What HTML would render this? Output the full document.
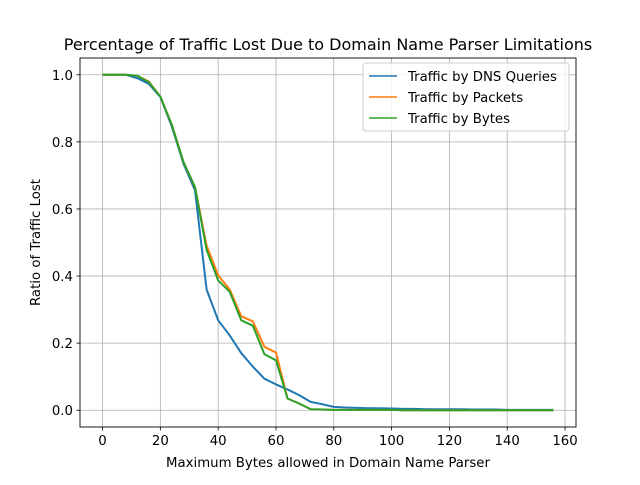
<!DOCTYPE html>
<html><head><meta charset="utf-8"><style>
body{margin:0;background:#fff;font-family:"Liberation Sans","DejaVu Sans",sans-serif;}
svg text{font-family:"DejaVu Sans","Liberation Sans",sans-serif;fill:#000;}
</style></head><body>
<svg id="chart" width="640" height="480" xmlns="http://www.w3.org/2000/svg">
<rect width="640" height="480" fill="#fff"/>
<text x="328" y="50" font-size="16" text-anchor="middle">Percentage of Traffic Lost Due to Domain Name Parser Limitations</text>
<g id="grid"></g><g id="series"></g>
<rect x="80" y="58" width="496" height="369" fill="none" stroke="#000" stroke-width="0.9"/>
<g id="ticks"></g>
<text x="328" y="467" font-size="13.3" text-anchor="middle">Maximum Bytes allowed in Domain Name Parser</text>
<text transform="translate(40,242.5) rotate(-90)" font-size="13.3" text-anchor="middle">Ratio of Traffic Lost</text>
<g>
<rect x="363" y="63" width="206" height="68" rx="3" fill="#fff" fill-opacity="0.8" stroke="#ccc"/>
<line x1="369" x2="397" y1="76" y2="76" stroke="#1f77b4" stroke-width="1.5"/>
<text x="408" y="81" font-size="13.3">Traffic by DNS Queries</text>
<line x1="369" x2="397" y1="97" y2="97" stroke="#ff7f0e" stroke-width="1.5"/>
<text x="408" y="102" font-size="13.3">Traffic by Packets</text>
<line x1="369" x2="397" y1="118" y2="118" stroke="#2ca02c" stroke-width="1.5"/>
<text x="408" y="123" font-size="13.3">Traffic by Bytes</text>
</g>
</svg>
<script>
const xValues=[0,4,8,12,16,20,24,28,32,36,40,44,48,52,56,60,64,68,72,76,80,84,88,92,96,100,104,108,112,116,120,124,128,132,136,140,144,148,152,156];
const dnsValues=[1,1,1,0.99,0.973,0.934,0.845,0.735,0.655,0.36,0.268,0.223,0.17,0.13,0.094,0.077,0.062,0.045,0.025,0.018,0.01,0.008,0.007,0.006,0.006,0.005,0.004,0.004,0.003,0.003,0.003,0.003,0.002,0.002,0.002,0.001,0.001,0.001,0.001,0.001];
const packetValues=[1,1,1,0.997,0.98,0.935,0.85,0.74,0.665,0.491,0.402,0.36,0.28,0.265,0.189,0.172,0.035,0.02,0.003,0.002,0.001,0.001,0.001,0.001,0.001,0.001,0,0,0,0,0,0,0,0,0,0,0,0,0,0];
const byteValues=[1,1,1,0.997,0.978,0.935,0.85,0.74,0.665,0.478,0.387,0.353,0.268,0.252,0.167,0.149,0.035,0.02,0.003,0.002,0.001,0.001,0.001,0.001,0.001,0.001,0,0,0,0,0,0,0,0,0,0,0,0,0,0];
const xTicks=[0,20,40,60,80,100,120,140,160];
const yTicks=[0.0,0.2,0.4,0.6,0.8,1.0];
const NS="http://www.w3.org/2000/svg";
const X0=80,X1=576,Y0=427,Y1=58,xmin=-7.8,xmax=163.8,ymin=-0.05,ymax=1.05;
const sx=v=>X0+(v-xmin)/(xmax-xmin)*(X1-X0);
const sy=v=>Y0-(v-ymin)/(ymax-ymin)*(Y0-Y1);
function mk(t,a,p){const e=document.createElementNS(NS,t);for(const k in a)e.setAttribute(k,a[k]);p.appendChild(e);return e;}
const grid=document.getElementById('grid'),ticks=document.getElementById('ticks'),ser=document.getElementById('series');
xTicks.forEach(v=>{const x=sx(v);
const g=mk('line',{x1:x,x2:x,y1:Y1,y2:Y0,stroke:'#b0b0b0','stroke-width':0.8},grid);


mk('line',{x1:x,x2:x,y1:Y0,y2:Y0+3.5,stroke:'#000','stroke-width':0.8},ticks);
const t=mk('text',{x:x,y:Y0+18,'font-size':13.3,'text-anchor':'middle'},ticks);t.textContent=v;

});
yTicks.forEach(v=>{const y=sy(v);
const g=mk('line',{x1:X0,x2:X1,y1:y,y2:y,stroke:'#b0b0b0','stroke-width':0.8},grid);


mk('line',{x1:X0-3.5,x2:X0,y1:y,y2:y,stroke:'#000','stroke-width':0.8},ticks);
const t=mk('text',{x:X0-7,y:y+5,'font-size':13.3,'text-anchor':'end'},ticks);t.textContent=v.toFixed(1);

});
[[dnsValues,'#1f77b4','dns-queries-line'],[packetValues,'#ff7f0e','packets-line'],[byteValues,'#2ca02c','bytes-line']].forEach(([vals,c,n])=>{
const p=mk('polyline',{points:vals.map((v,i)=>sx(xValues[i])+','+sy(v)).join(' '),fill:'none',stroke:c,'stroke-width':2,'stroke-linejoin':'round'},ser);

});
</script>
</body></html>
